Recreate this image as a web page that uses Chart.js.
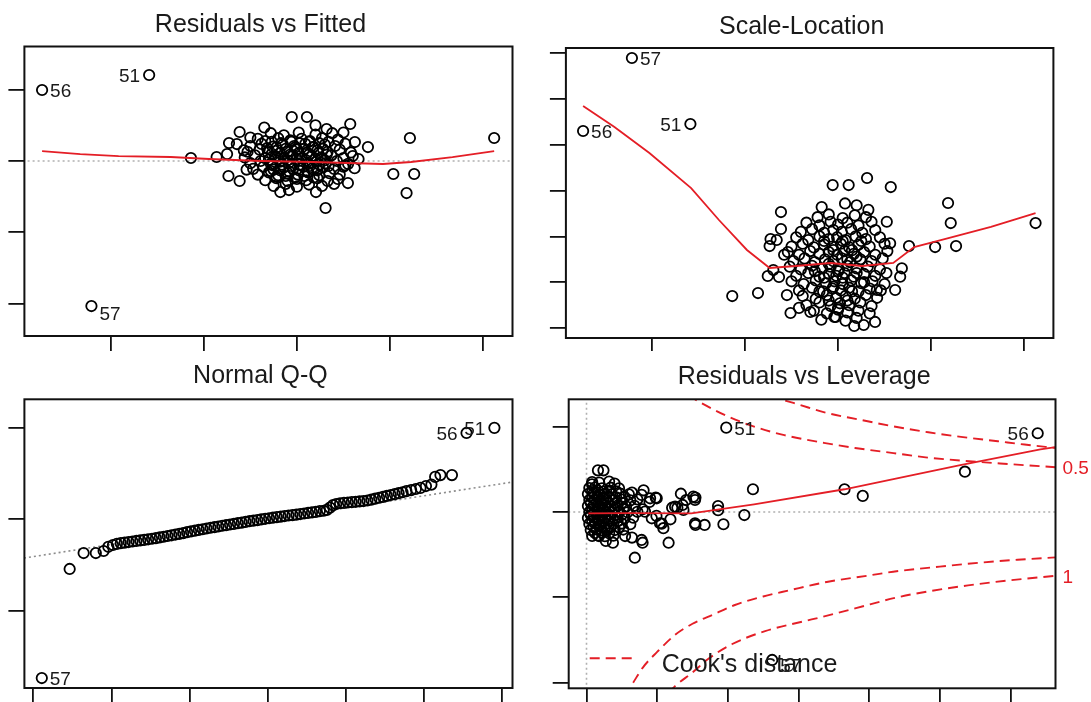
<!DOCTYPE html>
<html>
<head>
<meta charset="utf-8">
<title>lm diagnostics</title>
<script src="https://cdn.jsdelivr.net/npm/chart.js@4.4.1/dist/chart.umd.min.js"></script>
<style>
  html, body { margin: 0; padding: 0; background: #fff; }
  #wrap { position: relative; width: 1091px; height: 702px; overflow: hidden; background: #fff; }
  canvas { position: absolute; }
</style>
</head>
<body>
<div id="wrap">
  <canvas id="rvf" width="545" height="351" style="left:0;top:0"></canvas>
  <canvas id="sl" width="546" height="351" style="left:545px;top:0"></canvas>
  <canvas id="qq" width="545" height="351" style="left:0;top:351px"></canvas>
  <canvas id="lev" width="546" height="351" style="left:545px;top:351px"></canvas>
</div>
<script>
// ---- Residuals vs Fitted ----
const fittedRange = [3.073, 8.316];
const fittedTicks = [4, 5, 6, 7, 8];
const residRange = [-2.454, 1.606];
const residTicks = [-2, -1, 0, 1];
const rvfIds = ['56', '51', '57'];
const rvfIdPoints = [[3.263, 0.996], [4.413, 1.206], [3.793, -2.034]];
const rvfPoints = [
  [4.862,0.042],[5.138,0.056],[5.25,0.098],[5.271,0.252],[5.355,0.238],[5.385,0.407],[5.265,-0.21],[5.385,-0.28],
  [5.945,0.617],[6.108,0.617],[6.573,0.519],[6.319,0.449],[6.763,0.196],[6.623,0.266],[7.214,0.323],[8.119,0.323],
  [7.036,-0.182],[7.26,-0.182],[7.178,-0.449],[6.308,-0.659],[6.205,-0.435],[5.822,-0.435],[5.915,-0.407],[6.548,-0.309],
  [6.662,0.028],[6.52,-0.06],[6.62,-0.1],[5.43,0.15],[5.46,-0.12],[5.5,0.33],[6.5,0.4],[5.65,0.47],[6.2,0.5],
  [5.72,0.39],[5.86,0.36],[6.02,0.40],[6.2,0.37],[6.38,0.39],
  [5.58,0.31],[5.66,0.28],[5.8,0.32],[5.93,0.29],[6.05,0.31],[6.14,0.28],[6.27,0.32],[6.44,0.30],
  [5.5,0.21],[5.62,0.24],[5.74,0.2],[5.85,0.23],[5.97,0.21],[6.09,0.24],[6.18,0.2],[6.3,0.23],[6.41,0.21],[6.52,0.24],
  [5.47,0.13],[5.6,0.16],[5.69,0.12],[5.79,0.15],[5.9,0.13],[6.0,0.16],[6.11,0.12],[6.22,0.15],[6.33,0.13],[6.46,0.16],[6.58,0.12],
  [5.44,0.05],[5.55,0.08],[5.66,0.04],[5.77,0.07],[5.86,0.05],[5.95,0.08],[6.05,0.04],[6.16,0.07],[6.26,0.05],[6.37,0.08],[6.5,0.04],[6.6,0.07],
  [5.5,-0.03],[5.61,0],[5.72,-0.04],[5.82,-0.01],[5.91,-0.03],[6.02,0],[6.12,-0.04],[6.21,-0.01],[6.31,-0.03],[6.43,0],[6.55,-0.04],
  [5.53,-0.11],[5.64,-0.08],[5.75,-0.12],[5.86,-0.09],[5.96,-0.11],[6.07,-0.08],[6.18,-0.12],[6.28,-0.09],[6.4,-0.11],[6.5,-0.08],
  [5.58,-0.19],[5.7,-0.16],[5.8,-0.2],[5.9,-0.17],[6.01,-0.19],[6.12,-0.16],[6.24,-0.2],[6.35,-0.17],[6.46,-0.19],
  [5.66,-0.27],[5.78,-0.24],[5.9,-0.28],[6.0,-0.25],[6.1,-0.27],[6.22,-0.24],[6.33,-0.28],[6.44,-0.25],
  [5.75,-0.35],[5.88,-0.32],[6.0,-0.36],[6.13,-0.33],[6.27,-0.35],[6.4,-0.32],
  [5.73,0.27],[5.83,0.25],[5.94,0.27],[6.03,0.25],[6.13,0.27],[6.24,0.25],[6.34,0.27],
  [5.68,0.18],[5.78,0.19],[5.88,0.17],[5.98,0.19],[6.08,0.17],[6.17,0.19],[6.28,0.17],
  [5.73,0.1],[5.82,0.11],[5.93,0.09],[6.02,0.11],[6.13,0.09],[6.23,0.11],[6.32,0.09],
  [5.7,0.02],[5.8,0.03],[5.9,0.01],[6.0,0.03],[6.1,0.01],[6.2,0.03],[6.3,0.01],
  [5.74,-0.06],[5.84,-0.05],[5.94,-0.07],[6.03,-0.05],[6.14,-0.07],[6.24,-0.05],[6.34,-0.07],
  [5.72,-0.14],[5.82,-0.13],[5.92,-0.15],[6.02,-0.13],[6.12,-0.15],[6.22,-0.13],
  [5.78,-0.22],[5.88,-0.21],[5.98,-0.23],[6.08,-0.21],[6.18,-0.23]
];
const rvfLowess = [[3.263,0.14],[3.673,0.098],[4.085,0.07],[4.645,0.056],[5.057,0.028],[5.615,0],[6.173,-0.014],
  [6.548,-0.028],[6.924,-0.042],[7.225,-0.014],[7.671,0.056],[8.119,0.14]];
const rvfZero = [[3.0, 0], [8.4, 0]];

// ---- Scale-Location ----
const sqrtResRange = [-0.109, 3.057];
const sqrtResTicks = [0, 0.5, 1, 1.5, 2, 2.5, 3];
const slIds = ['57', '56', '51'];
const slIdPoints = [[3.783, 2.948], [3.258, 2.151], [4.412, 2.227]];
const slPoints = [
  [4.862,0.349],[5.139,0.382],[5.386,1.266],[5.386,1.081],[5.274,0.972],[5.264,0.895],[5.244,0.568],[5.365,0.557],
  [5.489,0.164],[5.702,0.175],[5.942,1.561],[6.114,1.561],[6.312,1.638],[6.567,1.539],[7.183,1.365],[7.212,1.146],
  [8.124,1.146],[7.044,0.884],[7.269,0.895],[6.763,0.895],[6.174,0.022],[6.276,0.033],[6.398,0.066],[5.975,0.12],
  [5.824,1.32],[6.075,1.36],[6.2,1.34],[6.326,1.29],[6.524,1.16],[6.686,0.652],[6.668,0.56],[6.417,0.415],[6.614,0.415],
  [6.56,0.925],[5.34,0.961],[5.304,0.633],[5.42,0.8],[5.45,0.36],[5.58,0.22],
  [5.78,1.21],[5.9,1.24],[6.05,1.2],[6.18,1.23],[6.3,1.21],
  [5.66,1.15],[5.8,1.12],[5.92,1.16],[6.0,1.13],[6.1,1.15],[6.22,1.12],[6.36,1.16],
  [5.6,1.05],[5.72,1.08],[5.85,1.04],[5.95,1.07],[6.04,1.05],[6.14,1.08],[6.26,1.04],[6.4,1.07],
  [5.55,0.99],[5.68,0.96],[5.8,1.0],[5.9,0.97],[5.99,0.99],[6.08,0.96],[6.19,1.0],[6.3,0.97],[6.45,0.99],
  [5.5,0.89],[5.62,0.92],[5.74,0.88],[5.85,0.91],[5.94,0.89],[6.03,0.92],[6.12,0.88],[6.22,0.91],[6.34,0.89],[6.5,0.92],
  [5.46,0.83],[5.58,0.8],[5.7,0.84],[5.8,0.81],[5.9,0.83],[5.99,0.8],[6.07,0.84],[6.17,0.81],[6.28,0.83],[6.4,0.8],[6.53,0.84],
  [5.52,0.73],[5.64,0.76],[5.75,0.72],[5.86,0.75],[5.95,0.73],[6.04,0.76],[6.13,0.72],[6.24,0.75],[6.36,0.73],[6.48,0.76],
  [5.48,0.67],[5.6,0.64],[5.72,0.68],[5.83,0.65],[5.92,0.67],[6.01,0.64],[6.1,0.68],[6.2,0.65],[6.32,0.67],[6.45,0.64],
  [5.55,0.57],[5.68,0.6],[5.8,0.56],[5.9,0.59],[5.98,0.57],[6.07,0.6],[6.17,0.56],[6.28,0.59],[6.4,0.57],[6.52,0.6],
  [5.5,0.51],[5.63,0.48],[5.76,0.52],[5.87,0.49],[5.96,0.51],[6.05,0.48],[6.14,0.52],[6.25,0.49],[6.37,0.51],[6.5,0.48],
  [5.58,0.41],[5.72,0.44],[5.84,0.4],[5.94,0.43],[6.03,0.41],[6.12,0.44],[6.22,0.4],[6.34,0.43],[6.46,0.41],
  [5.62,0.35],[5.76,0.32],[5.88,0.36],[5.98,0.33],[6.08,0.35],[6.18,0.32],[6.3,0.36],[6.42,0.33],
  [5.66,0.25],[5.8,0.28],[5.92,0.24],[6.02,0.27],[6.12,0.25],[6.24,0.28],[6.36,0.24],
  [5.74,0.19],[5.88,0.16],[6.0,0.2],[6.1,0.17],[6.22,0.19],[6.34,0.16],
  [5.82,0.09],[5.96,0.12],[6.08,0.08],[6.2,0.11],
  [5.85,0.95],[5.95,0.85],[6.05,0.95],[6.15,0.85],[5.9,0.7],[6.0,0.62],[6.1,0.75],[6.2,0.6],[5.85,0.55],[5.95,0.45],
  [6.05,0.55],[6.15,0.4],[5.9,0.3],[6.0,0.22],[6.1,0.3],[6.2,0.78],[5.75,0.62],[6.28,0.5],[5.8,0.4],[6.25,0.95]
];
const slLowess = [[3.258,2.424],[3.595,2.194],[3.971,1.91],[4.42,1.528],[4.719,1.179],[5.02,0.852],[5.264,0.655],
  [5.545,0.677],[5.919,0.71],[6.257,0.677],[6.594,0.71],[6.818,0.884],[7.156,0.972],[7.644,1.103],[8.124,1.255]];

// ---- Normal Q-Q ----
const theoRange = [-3.115, 3.139];
const theoTicks = [-3, -2, -1, 0, 1, 2, 3];
const stdResRangeQQ = [-9.235, 6.54];
const stdResTicksQQ = [-5, 0, 5];
const qqIds = ['57', '56', '51'];
const qqIdPoints = [[-2.892, -8.69], [2.55, 4.70], [2.907, 4.98]];
const qqPoints = [
  [-2.535,-2.73],[-2.356,-1.86],[-2.2,-1.86],[-2.1,-1.75],[-2.04,-1.52],[-1.98,-1.42],[-1.93,-1.36],[-1.88,-1.32],
  [-1.83,-1.29],[-1.78,-1.26],[-1.73,-1.23],[-1.68,-1.2],[-1.63,-1.17],[-1.58,-1.14],[-1.53,-1.11],[-1.48,-1.08],
  [-1.43,-1.05],[-1.38,-1.01],[-1.33,-0.97],[-1.28,-0.93],[-1.23,-0.89],[-1.18,-0.85],[-1.13,-0.81],[-1.08,-0.77],
  [-1.03,-0.72],[-0.98,-0.68],[-0.93,-0.64],[-0.88,-0.6],[-0.83,-0.56],[-0.78,-0.52],[-0.73,-0.48],[-0.68,-0.45],
  [-0.63,-0.41],[-0.58,-0.37],[-0.53,-0.34],[-0.48,-0.3],[-0.43,-0.27],[-0.38,-0.23],[-0.33,-0.2],[-0.28,-0.16],
  [-0.23,-0.12],[-0.18,-0.09],[-0.13,-0.06],[-0.08,-0.02],[-0.03,0.01],[0.02,0.04],[0.07,0.07],[0.12,0.1],
  [0.17,0.13],[0.22,0.16],[0.27,0.19],[0.32,0.21],[0.37,0.24],[0.42,0.27],[0.47,0.3],[0.52,0.33],[0.57,0.36],
  [0.62,0.39],[0.67,0.43],[0.72,0.45],[0.76,0.5],[0.8,0.62],[0.84,0.76],[0.88,0.82],[0.93,0.86],[0.98,0.88],
  [1.03,0.9],[1.08,0.92],[1.13,0.94],[1.18,0.96],[1.23,0.98],[1.28,1.01],[1.33,1.06],[1.38,1.11],[1.43,1.16],
  [1.48,1.21],[1.53,1.26],[1.58,1.31],[1.63,1.36],[1.68,1.41],[1.73,1.46],[1.78,1.52],[1.84,1.58],[1.9,1.64],
  [1.96,1.7],[2.03,1.8],[2.1,1.88],[2.148,2.3],[2.216,2.4],[2.363,2.4]
];
const qqLine = [[-3.5, -2.386], [3.5, 2.26]];

// ---- Residuals vs Leverage ----
const levRange = [-0.0126, 0.3319];
const levTicks = [0, 0.05, 0.1, 0.15, 0.2, 0.25, 0.3];
const stdResRangeLev = [-10.33, 6.60];
const stdResTicksLev = [-10, -5, 0, 5];
const levIds = ['51', '56', '57'];
const levIdPoints = [[0.0989, 4.94], [0.3193, 4.61], [0.1314, -8.67]];
const levPoints = [
  [0.2678,2.36],[0.1826,1.33],[0.1955,0.94],[0.1178,1.33],[0.1117,-0.18],[0.0931,0.35],[0.0931,0.1],[0.0969,-0.72],
  [0.0771,-0.76],[0.0836,-0.76],[0.0668,1.07],[0.0771,0.84],[0.0705,0.7],[0.0581,-1.8],[0.0397,-1.8],[0.0342,-2.68],
  [0.0532,-0.68],[0.0495,-0.23],[0.0594,-0.43],[0.0606,0.25],[0.0643,0.25],[0.068,0.41],[0.049,0.84],[0.0404,1.27],
  [0.0446,0.59],[0.0397,0.16],[0.0081,2.44],[0.012,2.44],[0.0039,1.62],[0.0199,1.66],[0.0322,1.13],[0.036,0.74],
  [0.0089,-1.41],[0.0137,-1.7],[0.0187,-1.8],[0.0273,-1.41],[0.0322,-1.5],[0.039,1.0],[0.045,0.8],[0.0497,0.8],
  [0.0756,0.9],[0.052,-0.66],[0.0462,-0.37],[0.0544,-0.95],[0.039,-1.64],[0.0414,0.02],[0.0627,0.31],[0.0686,0.12],
  [0.0768,-0.66],[0.0768,0.7],
  [0.004,1.75],[0.009,1.72],[0.016,1.78],
  [0.002,1.4],[0.006,1.43],[0.011,1.38],[0.017,1.42],[0.023,1.39],
  [0.001,1.05],[0.005,1.08],[0.009,1.03],[0.013,1.06],[0.018,1.04],[0.024,1.07],[0.03,1.03],
  [0.002,0.7],[0.006,0.73],[0.01,0.68],[0.014,0.71],[0.019,0.69],[0.025,0.72],[0.031,0.68],
  [0.001,0.35],[0.005,0.38],[0.009,0.33],[0.013,0.36],[0.017,0.34],[0.022,0.37],[0.028,0.33],[0.034,0.36],
  [0.002,0],[0.006,0.03],[0.01,-0.02],[0.014,0.01],[0.018,-0.01],[0.023,0.02],[0.029,-0.02],[0.036,0.01],
  [0.001,-0.35],[0.005,-0.32],[0.009,-0.37],[0.013,-0.34],[0.017,-0.36],[0.022,-0.33],[0.027,-0.37],[0.033,-0.34],
  [0.002,-0.7],[0.006,-0.67],[0.01,-0.72],[0.014,-0.69],[0.019,-0.71],[0.025,-0.68],[0.031,-0.72],
  [0.003,-1.05],[0.007,-1.02],[0.011,-1.07],[0.015,-1.04],[0.02,-1.06],[0.026,-1.03],
  [0.004,-1.4],[0.008,-1.37],[0.013,-1.42],[0.019,-1.39],
  [0.004,1.22],[0.008,1.25],[0.012,1.2],[0.016,1.24],[0.021,1.21],
  [0.004,0.87],[0.008,0.9],[0.012,0.85],[0.016,0.89],[0.021,0.86],[0.027,0.88],
  [0.003,0.52],[0.007,0.55],[0.011,0.5],[0.015,0.54],[0.02,0.51],[0.025,0.53],
  [0.004,0.17],[0.008,0.2],[0.012,0.15],[0.016,0.19],[0.02,0.16],[0.026,0.18],
  [0.003,-0.18],[0.007,-0.15],[0.011,-0.2],[0.015,-0.17],[0.02,-0.19],[0.025,-0.16],
  [0.004,-0.53],[0.008,-0.5],[0.012,-0.55],[0.016,-0.52],[0.022,-0.54],
  [0.005,-0.88],[0.009,-0.85],[0.013,-0.9],[0.017,-0.87],[0.023,-0.89],
  [0.006,-1.23],[0.011,-1.2],[0.016,-1.25]
];
const levLowess = [[0.0014,-0.08],[0.03,-0.07],[0.0741,-0.08],[0.1186,0.45],[0.1826,1.33],[0.2172,1.92],
  [0.2645,2.75],[0.3212,3.67],[0.3319,3.8]];
const cookUpper05 = [[0.072,6.85],[0.0766,6.6],[0.09,6.0],[0.1,5.6],[0.1186,5.0],[0.14,4.5],[0.1679,4.05],
  [0.19,3.75],[0.2172,3.45],[0.24,3.2],[0.2665,3.0],[0.3,2.8],[0.332,2.62]];
const cookUpper1 = [[0.13,6.85],[0.1358,6.65],[0.15,6.3],[0.17,5.8],[0.1926,5.42],[0.215,5.05],[0.2419,4.67],
  [0.265,4.4],[0.2911,4.14],[0.31,3.95],[0.332,3.75]];
const cookLower05 = [[0.033,-10.0],[0.04,-9.1],[0.05,-8.2],[0.0627,-7.2],[0.075,-6.55],[0.09,-6.0],[0.105,-5.45],
  [0.125,-4.95],[0.143,-4.6],[0.17,-4.1],[0.2,-3.72],[0.217,-3.5],[0.25,-3.2],[0.28,-2.96],[0.305,-2.8],[0.332,-2.66]];
const cookLower1 = [[0.058,-10.6],[0.0627,-10.2],[0.075,-9.4],[0.0863,-8.6],[0.1028,-7.75],[0.1264,-6.98],
  [0.1618,-6.25],[0.19,-5.65],[0.22,-5.0],[0.242,-4.65],[0.27,-4.3],[0.3,-4.0],[0.332,-3.74]];
const levZeroH = [[-0.02, 0], [0.34, 0]];
const levZeroV = [[0, -11], [0, 7]];

// ---- drawing ----
const FONT = "'Liberation Sans', Arial, sans-serif";
Chart.defaults.font.family = FONT;
const RED = '#e41e26';
const GREY = '#b0b0b0';
const INK = '#000';

const boxPlugin = {
  id: 'box',
  afterDraw(chart) {
    const { ctx, chartArea: a } = chart;
    ctx.save();
    ctx.strokeStyle = '#111';
    ctx.lineWidth = 2;
    ctx.strokeRect(a.left, a.top, a.right - a.left, a.bottom - a.top);
    ctx.restore();
  }
};

// point ids, placed right or left of the point like R's text(pos = 4 / 2)
function idLabels(ids, pts, place) {
  return {
    id: 'idLabels',
    afterDatasetsDraw(chart) {
      const { ctx, scales } = chart;
      ctx.save();
      ctx.font = '19px ' + FONT;
      ctx.fillStyle = '#1a1a1a';
      ctx.textBaseline = 'alphabetic';
      ids.forEach((id, i) => {
        const px = scales.x.getPixelForValue(pts[i][0]);
        const py = scales.y.getPixelForValue(pts[i][1]);
        const [side, dy] = place[i];
        ctx.textAlign = side === 'left' ? 'right' : 'left';
        ctx.fillText(id, px + (side === 'left' ? -9 : 8), py + 7 + dy);
      });
      ctx.restore();
    }
  };
}

function cookExtras(levels) {
  return {
    id: 'cookExtras',
    afterDatasetsDraw(chart) {
      const { ctx, chartArea: a, scales } = chart;
      ctx.save();
      ctx.font = '19px ' + FONT;
      ctx.fillStyle = RED;
      ctx.textAlign = 'left';
      ctx.textBaseline = 'alphabetic';
      levels.forEach(([label, v]) => ctx.fillText(label, a.right + 7, scales.y.getPixelForValue(v) + 7));
      // legend
      const ly = a.bottom - 30;
      ctx.strokeStyle = RED;
      ctx.lineWidth = 1.9;
      ctx.setLineDash([10, 6]);
      ctx.beginPath();
      ctx.moveTo(a.left + 21, ly);
      ctx.lineTo(a.left + 69, ly);
      ctx.stroke();
      ctx.setLineDash([]);
      ctx.font = '25px ' + FONT;
      ctx.fillStyle = '#1a1a1a';
      ctx.fillText("Cook's distance", a.left + 93, a.bottom - 16.5);
      ctx.restore();
    }
  };
}

function axis(range, ticks, len) {
  return {
    type: 'linear',
    min: range[0],
    max: range[1],
    afterBuildTicks: ax => { ax.ticks = ticks.map(v => ({ value: v })); },
    ticks: { display: false },
    border: { display: false },
    grid: { drawOnChartArea: false, drawTicks: true, tickLength: len, color: '#111', lineWidth: 1.8 }
  };
}

const pointSet = data => ({
  data, showLine: false, order: 3,
  pointRadius: 5.2, pointBorderWidth: 1.8, pointBorderColor: INK, pointBackgroundColor: 'rgba(0,0,0,0)'
});
const lineSet = (data, color, width, dash, order, smooth) => ({
  data, showLine: true, order, pointRadius: 0, fill: false,
  borderColor: color, borderWidth: width, borderDash: dash,
  cubicInterpolationMode: smooth ? 'monotone' : 'default', tension: 0
});

function makePanel(id, cfg) {
  return new Chart(document.getElementById(id), {
    type: 'scatter',
    data: { datasets: cfg.datasets },
    options: {
      responsive: false,
      animation: false,
      events: [],
      layout: { padding: cfg.padding },
      plugins: {
        legend: { display: false },
        tooltip: { enabled: false },
        title: {
          display: true, text: cfg.title, color: '#1a1a1a',
          font: { size: 25, weight: 'normal' }, padding: cfg.titlePadding
        }
      },
      scales: {
        x: axis(cfg.xRange, cfg.xTicks, cfg.xTickLen),
        y: axis(cfg.yRange, cfg.yTicks, 16)
      }
    },
    plugins: [boxPlugin].concat(cfg.extra)
  });
}

makePanel('rvf', {
  title: 'Residuals vs Fitted',
  padding: { left: 8.4, right: 32.5, top: 0.5, bottom: 0 },
  titlePadding: { top: 10, bottom: 6 },
  xRange: fittedRange, xTicks: fittedTicks, xTickLen: 15,
  yRange: residRange, yTicks: residTicks,
  datasets: [
    lineSet(rvfLowess, RED, 1.8, [], 1, false),
    pointSet(rvfPoints.concat(rvfIdPoints)),
    lineSet(rvfZero, GREY, 1.6, [2, 3], 4, false)
  ],
  extra: [idLabels(rvfIds, rvfIdPoints, [['right', 0], ['left', 0], ['right', 7]])]
});

makePanel('sl', {
  title: 'Scale-Location',
  padding: { left: 4.9, right: 37.6, top: 0.5, bottom: 0 },
  titlePadding: { top: 12, bottom: 5.5 },
  xRange: fittedRange, xTicks: fittedTicks, xTickLen: 13,
  yRange: sqrtResRange, yTicks: sqrtResTicks,
  datasets: [
    lineSet(slLowess, RED, 1.8, [], 1, false),
    pointSet(slPoints.concat(slIdPoints))
  ],
  extra: [idLabels(slIds, slIdPoints, [['right', 0], ['right', 0], ['left', 0]])]
});

makePanel('qq', {
  title: 'Normal Q-Q',
  padding: { left: 8.4, right: 32.5, top: 0.5, bottom: 0 },
  titlePadding: { top: 10, bottom: 7.8 },
  xRange: theoRange, xTicks: theoTicks, xTickLen: 14,
  yRange: stdResRangeQQ, yTicks: stdResTicksQQ,
  datasets: [
    pointSet(qqPoints.concat(qqIdPoints)),
    lineSet(qqLine, '#8c8c8c', 1.6, [2, 3], 4, false)
  ],
  extra: [idLabels(qqIds, qqIdPoints, [['right', 0], ['left', 0], ['left', 0]])]
});

makePanel('lev', {
  title: 'Residuals vs Leverage',
  padding: { left: 7.7, right: 35.5, top: 0.5, bottom: 0 },
  titlePadding: { top: 10.5, bottom: 7.3 },
  xRange: levRange, xTicks: levTicks, xTickLen: 13.7,
  yRange: stdResRangeLev, yTicks: stdResTicksLev,
  datasets: [
    lineSet(levLowess, RED, 1.8, [], 1, false),
    lineSet(cookUpper05, RED, 1.9, [10, 6], 2, true),
    lineSet(cookUpper1, RED, 1.9, [10, 6], 2, true),
    lineSet(cookLower05, RED, 1.9, [10, 6], 2, true),
    lineSet(cookLower1, RED, 1.9, [10, 6], 2, true),
    pointSet(levPoints.concat(levIdPoints)),
    lineSet(levZeroH, GREY, 1.6, [2, 3], 4, false),
    lineSet(levZeroV, GREY, 1.6, [2, 3], 4, false)
  ],
  extra: [
    idLabels(levIds, levIdPoints, [['right', 0], ['left', 0], ['right', 5]]),
    cookExtras([['0.5', cookUpper05[cookUpper05.length - 1][1]], ['1', cookLower1[cookLower1.length - 1][1]]])
  ]
});
</script>
</body>
</html>
